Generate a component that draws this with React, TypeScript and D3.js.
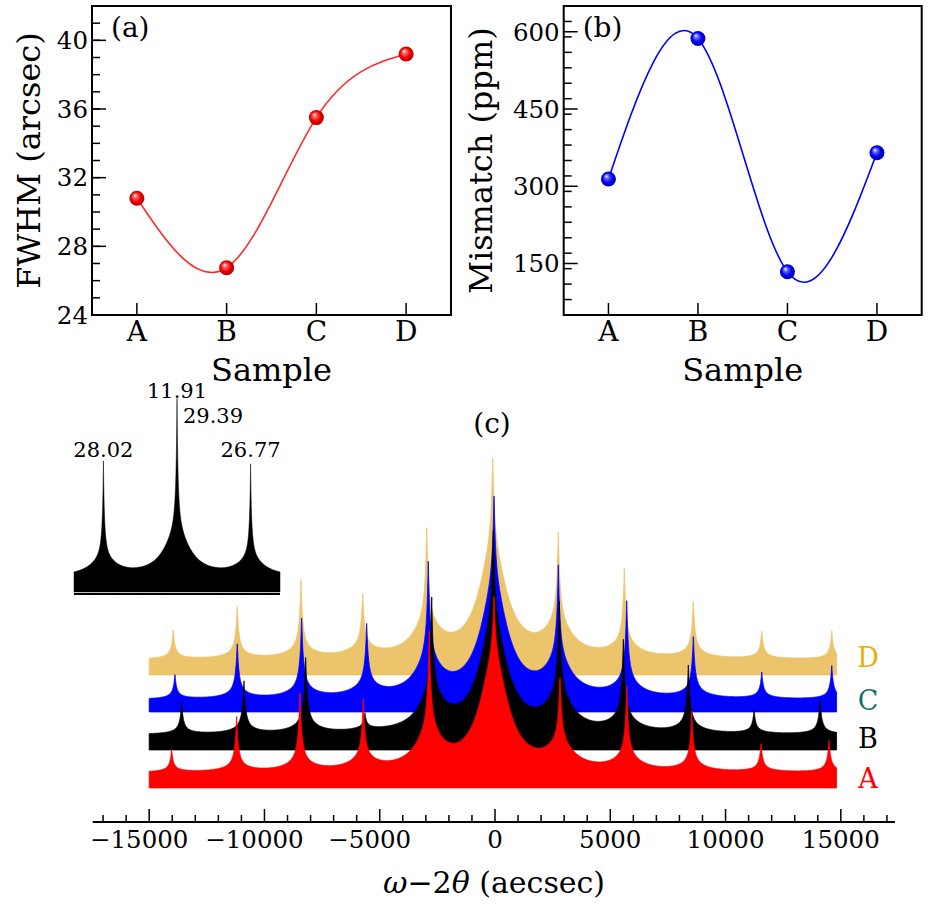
import React from "react";
import * as d3 from "d3";

// ---------- Panel (a) / (b) data ----------
const samples = ["A", "B", "C", "D"];
const fwhm = [30.8, 26.75, 35.5, 39.2];
const mismatch = [314, 587, 134, 365];
const fwhmTicks = [24, 28, 32, 36, 40];
const mismatchTicks = [150, 300, 450, 600];

// ---------- Panel (c) data (arbitrary log-intensity units) ----------
const omegaTicks = [-15000, -10000, -5000, 0, 5000, 10000, 15000];
const specNames = ["A", "B", "C", "D"];
const specBase = [34, 72, 110, 147];
const specNoiseTop = [49, 87, 122, 162];
const labelLevel = [44, 84, 122, 165];
const centralWing = [105, 100, 100, 100];
const peaksA = [-14026, -11206, -8460, -5714, -2850, -43, 2820, 5714, 8534, 11540, 14490];
const topsA = [72, 105, 130, 120, 185, 224, 139, 134, 110, 78, 82];
const peaksB = [-13592, -10889, -8213, -5640, -2746, -74, 2790, 5566, 8386, 11237, 14100];
const topsB = [119, 140, 165, 104, 219, 289, 215, 180, 156, 111, 122];
const peaksC = [-13883, -11180, -8387, -5566, -2894, -43, 2746, 5714, 8603, 11570, 14607];
const topsC = [147, 179, 204, 195, 255, 325, 251, 219, 185, 149, 156];
const peaksD = [-13957, -11180, -8417, -5740, -2963, -100, 2746, 5610, 8603, 11570, 14607];
const topsD = [192, 216, 241, 226, 290, 364, 284, 251, 220, 190, 191];
const wingRatio = [0.05, 0.06, 0.08, 0.12, 0.22, 0, 0.22, 0.12, 0.08, 0.06, 0.05];

// Inset
const insetPeaks = [-500, 0, 500];
const insetTops = [131, 194, 128];
const insetWing = [15, 40, 15];
const insetLabels = ["28.02", "11.91", "26.77"];
const insetBase = 2;
const insetNoiseTop = 17;

const FONT = "'DejaVu Serif', serif";

const specColors = ["#ff0000", "#000000", "#0000ff", "#ecc46c"];
const labelColors = ["#ff0000", "#000000", "#17706f", "#e3b00e"];

function spectrum(peaks: number[], tops: number[], noiseTop: number, cw: number) {
  const pts: [number, number][] = [];
  let ci = 0;
  peaks.forEach((p, i) => {
    if (Math.abs(p) < Math.abs(peaks[ci])) ci = i;
  });
  for (let v = -15000; v <= 14820; v += 8) {
    let s = 0;
    peaks.forEach((p, i) => {
      const d = Math.abs(v - p);
      const H = tops[i] - noiseTop;
      const W = i === ci ? cw : H * wingRatio[i];
      s += (H - W) / Math.pow(1 + d / 150, 2) + W / (1 + (d / 750) * (d / 750));
    });
    pts.push([v, noiseTop + s]);
  }
  return pts;
}

function insetSpectrum() {
  const pts: [number, number][] = [];
  for (let v = -700; v <= 700; v += 1) {
    let s = 0;
    insetPeaks.forEach((p, i) => {
      const d = Math.abs(v - p);
      const H = insetTops[i] - insetNoiseTop;
      const W = insetWing[i];
      s += (H - W) / Math.pow(1 + d / 15, 2) + W / (1 + (d / 110) * (d / 110));
    });
    pts.push([v, insetNoiseTop + s]);
  }
  return pts;
}

function Panel({
  x0, x1, values, ticks, domain, minorStep, color, gradId, label, ylabel, ylabelX,
}: any) {
  const y0 = 6, y1 = 315;
  const x = d3.scaleLinear().domain([-0.5, 3.5]).range([x0, x1]);
  const y = d3.scaleLinear().domain(domain).range([y1, y0]);
  const line = d3.line<number>().x((_, i) => x(i)).y((d) => y(d)).curve(d3.curveNatural);
  const minors = d3.range(domain[0], domain[1] + 0.001, minorStep).filter((v) => v > domain[0] && v < domain[1]);
  return (
    <g>
      {minors.map((v) => (
        <line key={"m" + v} x1={x0} x2={x0 + 8} y1={y(v)} y2={y(v)} stroke="#000" strokeWidth={1.5} />
      ))}
      {ticks.map((v: number) => (
        <g key={"t" + v}>
          <line x1={x0} x2={x0 + 14} y1={y(v)} y2={y(v)} stroke="#000" strokeWidth={1.5} />
          <text x={x0 - 4} y={y(v)} dy="0.36em" textAnchor="end" fontSize={24.5} fontFamily={FONT}>{v}</text>
        </g>
      ))}
      {samples.map((s, i) => (
        <g key={s}>
          <line x1={x(i)} x2={x(i)} y1={y1} y2={y1 - 12} stroke="#000" strokeWidth={1.5} />
          <text x={x(i)} y={y1 + 26} textAnchor="middle" fontSize={28} fontFamily={FONT}>{s}</text>
        </g>
      ))}
      <path d={line(values) || ""} fill="none" stroke={color} strokeWidth={1.6} />
      {values.map((v: number, i: number) => (
        <circle key={i} cx={x(i)} cy={y(v)} r={7.5} fill={`url(#${gradId})`} />
      ))}
      <rect x={x0} y={y0} width={x1 - x0} height={y1 - y0} fill="none" stroke="#000" strokeWidth={2} />
      <text x={x0 + 19} y={37} fontSize={28} fontFamily={FONT}>{label}</text>
      <text x={(x0 + x1) / 2} y={381} textAnchor="middle" fontSize={32} fontFamily={FONT}>Sample</text>
      <text transform={`translate(${ylabelX},${(y0 + y1) / 2}) rotate(-90)`} textAnchor="middle" dy="0.35em" fontSize={32} fontFamily={FONT}>{ylabel}</text>
    </g>
  );
}

export default function App() {
  const xC = d3.scaleLinear().domain([-17450, 17350]).range([92.7, 895]);
  const yC = d3.scaleLinear().domain([0, 380]).range([822, 442]);
  const area = d3
    .area<[number, number]>()
    .x((d) => xC(d[0]))
    .y1((d) => yC(d[1]));

  const allPeaks = [peaksA, peaksB, peaksC, peaksD];
  const allTops = [topsA, topsB, topsC, topsD];
  const specs = allPeaks.map((p, i) => spectrum(p, allTops[i], specNoiseTop[i], centralWing[i]));
  const order = [3, 2, 1, 0];
  const minorC = d3.range(-17000, 17001, 1000).filter((v) => v % 5000 !== 0);

  const xI = d3.scaleLinear().domain([-700, 700]).range([74, 280]);
  const yI = d3.scaleLinear().domain([0, 200]).range([594, 394]);
  const inset = insetSpectrum();
  const insetArea = d3
    .area<[number, number]>()
    .x((d) => xI(d[0]))
    .y0(yI(insetBase))
    .y1((d) => yI(d[1]));
  const labelPos = [
    { x: xI(insetPeaks[0]), y: 457 },
    { x: xI(insetPeaks[1]), y: 398 },
    { x: xI(insetPeaks[2]), y: 457 },
  ];

  return (
    <svg width={930} height={909} style={{ position: "absolute", left: 0, top: 0, background: "#fff" }}>
      <defs>
        <radialGradient id="gRed" cx="50%" cy="50%" r="55%" fx="35%" fy="30%">
          <stop offset="0%" stopColor="#ffffff" />
          <stop offset="22%" stopColor="#ff7070" />
          <stop offset="60%" stopColor="#f00000" />
          <stop offset="100%" stopColor="#a00000" />
        </radialGradient>
        <radialGradient id="gBlue" cx="50%" cy="50%" r="55%" fx="35%" fy="30%">
          <stop offset="0%" stopColor="#ffffff" />
          <stop offset="22%" stopColor="#7070ff" />
          <stop offset="60%" stopColor="#0000f0" />
          <stop offset="100%" stopColor="#0000a0" />
        </radialGradient>
      </defs>
      <rect width={930} height={909} fill="#fff" />

      <Panel x0={92} x1={451} values={fwhm} ticks={fwhmTicks} domain={[24, 42]} minorStep={1}
        color="#ff2a2a" gradId="gRed" label="(a)" ylabel="FWHM (arcsec)" ylabelX={29} />
      <Panel x0={563.7} x1={921.7} values={mismatch} ticks={mismatchTicks} domain={[50, 650]} minorStep={30}
        color="#0000ff" gradId="gBlue" label="(b)" ylabel="Mismatch (ppm)" ylabelX={481} />

      {/* Panel (c) */}
      <text x={492} y={433} textAnchor="middle" fontSize={28} fontFamily={FONT}>(c)</text>
      {order.map((i) => (
        <path key={specNames[i]} d={area.y0(yC(specBase[i]))(specs[i]) || ""} fill={specColors[i]} stroke={specColors[i]} strokeWidth={0.8} />
      ))}
      {specNames.map((n, i) => (
        <text key={"l" + n} x={868} y={yC(labelLevel[i])} dy="0.36em" textAnchor="middle" fontSize={27} fontFamily={FONT} fill={labelColors[i]}>{n}</text>
      ))}
      <line x1={92.7} x2={895} y1={822} y2={822} stroke="#000" strokeWidth={2} />
      {minorC.map((v) => (
        <line key={"mc" + v} x1={xC(v)} x2={xC(v)} y1={822} y2={815} stroke="#000" strokeWidth={1.5} />
      ))}
      {omegaTicks.map((v) => (
        <g key={"tc" + v}>
          <line x1={xC(v)} x2={xC(v)} y1={822} y2={809} stroke="#000" strokeWidth={1.5} />
          <text x={xC(v) - (v < 0 ? 10 : 0)} y={848} textAnchor="middle" fontSize={24.5} fontFamily={FONT}>
            {v < 0 ? "\u2212" + Math.abs(v) : String(v)}
          </text>
        </g>
      ))}
      <text x={494} y={893} textAnchor="middle" fontSize={30} fontFamily={FONT}>
        <tspan fontStyle="italic">ω</tspan>
        <tspan>−2</tspan>
        <tspan fontStyle="italic">θ</tspan>
        <tspan> (aecsec)</tspan>
      </text>

      {/* Inset */}
      <path d={insetArea(inset) || ""} fill="#000" stroke="#000" strokeWidth={0.5} />
      <line x1={74} x2={280} y1={594} y2={594} stroke="#000" strokeWidth={1.8} />
      {labelPos.map((p, i) => (
        <text key={"il" + i} x={p.x} y={p.y} textAnchor="middle" fontSize={21} fontFamily={FONT}>{insetLabels[i]}</text>
      ))}
      <text x={213} y={423} textAnchor="middle" fontSize={21} fontFamily={FONT}>29.39</text>
    </svg>
  );
}
